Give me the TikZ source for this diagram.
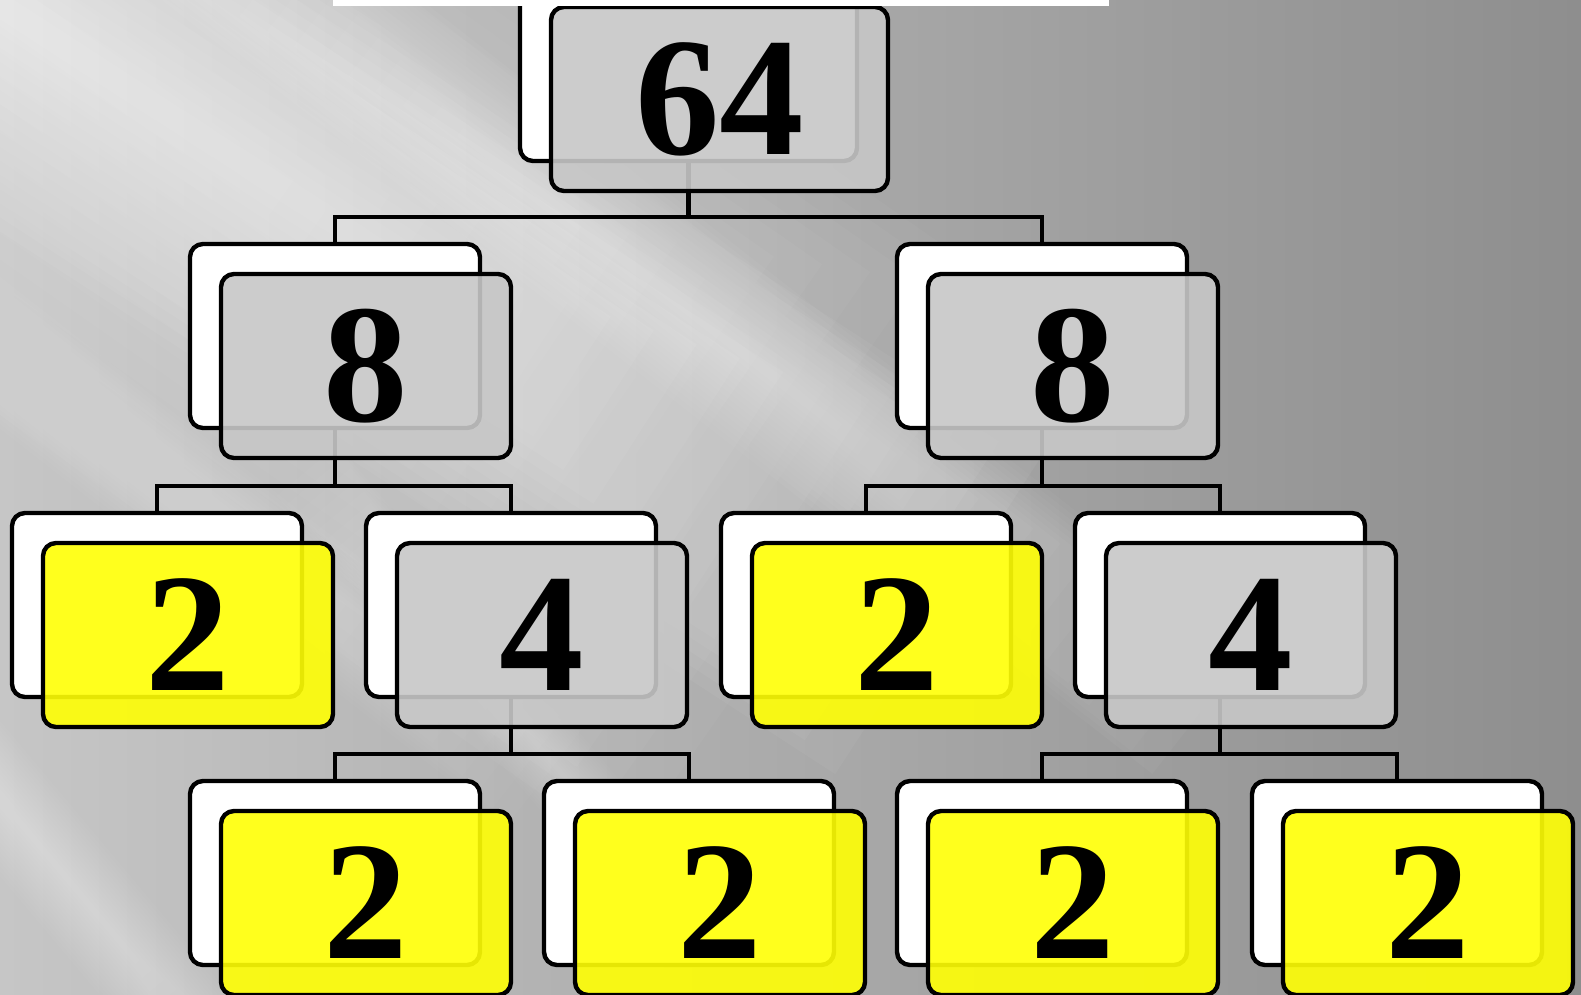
\documentclass[tikz,border=0pt]{standalone}
\usepackage{fontspec}
\setmainfont{Liberation Serif}
\definecolor{boxgray}{HTML}{C7C7C7}
\definecolor{boxyel}{HTML}{FFFF05}
\definecolor{bgl}{HTML}{C6C6C6}
\definecolor{bgm}{HTML}{ABABAB}
\definecolor{bgr}{HTML}{8E8E8E}
% soft white streak: centre x, centre y, angle, half width, half length, layer opacity
\newcommand\softstreak[6]{%
  \foreach \k in {1,...,16}{%
    \fill[white, opacity=#6, shift={(#1,#2)}, rotate=#3]
      ({-#5*(0.3+0.7*\k/16)},{-#4*\k/16}) rectangle ({#5*(0.3+0.7*\k/16)},{#4*\k/16});
  }}
\begin{document}
\begin{tikzpicture}[x=1pt,y=-1pt,
  backbox/.style={draw=black, line width=4.4pt, rounded corners=13pt, fill=white,
    minimum width=290pt, minimum height=184pt, anchor=north west, inner sep=0pt, outer sep=0pt},
  frontbox/.style={backbox, fill opacity=0.9, text opacity=1,
    font=\fontsize{169}{169}\selectfont\bfseries},
  gfront/.style={frontbox, fill=boxgray},
  yfront/.style={frontbox, fill=boxyel},
  link/.style={line width=4.4pt}]
\useasboundingbox (0,0) rectangle (1581,995);
% background
\shade[left color=bgl, middle color=bgm, right color=bgr] (0,0) rectangle (1581,995);
\softstreak{0}{0}{-35}{340}{1000}{0.028}
\softstreak{100}{70}{-33}{190}{1000}{0.045}
\softstreak{650}{280}{-38}{80}{700}{0.03}
\softstreak{150}{470}{-38}{60}{500}{0.02}
\softstreak{60}{870}{-50}{50}{350}{0.025}
\softstreak{500}{700}{-50}{40}{300}{0.02}
% helper heights
\coordinate (h0) at (0,217);
\coordinate (h1) at (0,486);
\coordinate (h2) at (0,754);
% back boxes
\node[backbox, minimum width=337pt] (r0b) at (520,-23) {};
\node[backbox] (a1b) at (190,244) {};
\node[backbox] (a2b) at (897,244) {};
\node[backbox] (b1b) at (12,513) {};
\node[backbox] (b2b) at (366,513) {};
\node[backbox] (b3b) at (721,513) {};
\node[backbox] (b4b) at (1075,513) {};
\node[backbox] (c1b) at (190,781) {};
\node[backbox] (c2b) at (544,781) {};
\node[backbox] (c3b) at (897,781) {};
\node[backbox] (c4b) at (1252,781) {};
% links
\draw[link] (r0b.south) -- (r0b.south |- h0);
\draw[link] (a1b.north) |- (r0b.south |- h0) -| (a2b.north);
\draw[link] (a1b.south) -- (a1b.south |- h1);
\draw[link] (b1b.north) |- (a1b.south |- h1) -| (b2b.north);
\draw[link] (a2b.south) -- (a2b.south |- h1);
\draw[link] (b3b.north) |- (a2b.south |- h1) -| (b4b.north);
\draw[link] (b2b.south) -- (b2b.south |- h2);
\draw[link] (c1b.north) |- (b2b.south |- h2) -| (c2b.north);
\draw[link] (b4b.south) -- (b4b.south |- h2);
\draw[link] (c3b.north) |- (b4b.south |- h2) -| (c4b.north);
% front boxes
\node[gfront, minimum width=337pt] (r0f) at (551,7) {64};
\node[gfront] (a1f) at (221,274) {8};
\node[gfront] (a2f) at (928,274) {8};
\node[yfront] (b1f) at (43,543) {2};
\node[gfront] (b2f) at (397,543) {4};
\node[yfront] (b3f) at (752,543) {2};
\node[gfront] (b4f) at (1106,543) {4};
\node[yfront] (c1f) at (221,811) {2};
\node[yfront] (c2f) at (575,811) {2};
\node[yfront] (c3f) at (928,811) {2};
\node[yfront] (c4f) at (1283,811) {2};
% top strip
\fill[white] (333,0) rectangle (1109,6);
\end{tikzpicture}
\end{document}
